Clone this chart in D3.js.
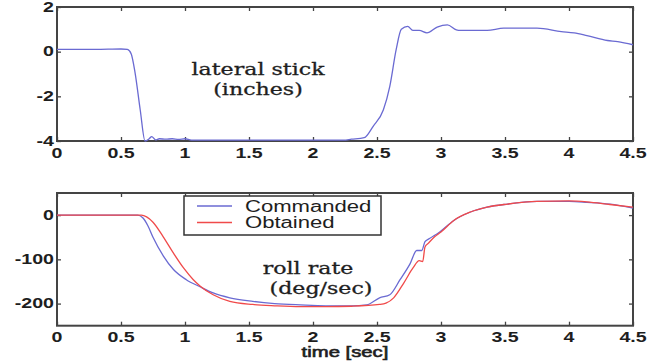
<!DOCTYPE html>
<html>
<head>
<meta charset="utf-8">
<script src="https://cdn.jsdelivr.net/npm/d3@7"></script>
<style>
  html, body { margin: 0; padding: 0; background: #fff; }
  svg { display: block; }
</style>
</head>
<body>
<svg id="chart" width="647" height="362"></svg>
<script>
// lateral stick (inches)
const stickTime = [0, 0.3, 0.5, 0.55, 0.58, 0.61, 0.65, 0.688, 0.72, 0.74, 0.77, 0.8, 0.85, 0.9, 0.95, 1.0, 1.05, 1.5, 2.0, 2.24, 2.3, 2.4, 2.47, 2.55, 2.6, 2.65, 2.69, 2.74, 2.78, 2.83, 2.89, 2.97, 3.05, 3.12, 3.15, 3.36, 3.49, 3.75, 3.94, 4.04, 4.14, 4.3, 4.38, 4.5];
const stickVal = [0.1, 0.1, 0.12, 0.1, -0.1, -0.95, -2.6, -4.0, -3.9, -3.8, -3.95, -3.9, -3.92, -3.9, -3.93, -3.9, -3.96, -3.96, -3.96, -3.96, -3.92, -3.85, -3.34, -2.6, -1.55, 0.1, 1.0, 1.13, 0.95, 0.95, 0.84, 1.1, 1.2, 0.98, 0.95, 0.95, 1.05, 1.05, 0.9, 0.84, 0.72, 0.5, 0.45, 0.31];

// roll rate (deg/sec)
const cmdTime = [0, 0.5, 0.63, 0.67, 0.71, 0.75, 0.83, 0.91, 1.01, 1.117, 1.22, 1.35, 1.53, 1.7, 1.9, 2.1, 2.3, 2.42, 2.52, 2.60, 2.68, 2.76, 2.81, 2.85, 2.875, 2.91, 2.99, 3.1, 3.23, 3.36, 3.52, 3.75, 4.0, 4.14, 4.32, 4.5];
const cmdVal = [0, 0, 0, -6, -24, -50, -92, -123, -146, -162, -176, -187, -195, -200, -203, -205, -205, -203, -187, -180, -146, -109, -80, -80, -60, -53, -38, -12, 7, 18, 25, 31, 31, 29, 25, 16];
const obtTime = [0, 0.5, 0.66, 0.7, 0.75, 0.83, 0.91, 0.99, 1.065, 1.117, 1.22, 1.35, 1.53, 1.7, 1.9, 2.1, 2.3, 2.52, 2.57, 2.63, 2.71, 2.78, 2.83, 2.857, 2.875, 2.90, 2.95, 3.0, 3.1, 3.23, 3.36, 3.52, 3.75, 4.0, 4.14, 4.32, 4.5];
const obtVal = [0, 0, 0, -4, -16, -49, -86, -120, -146, -160, -180, -195, -202, -205, -207, -207, -206, -202, -199, -187, -153, -120, -103, -105, -72, -64, -49, -38, -12, 7, 18, 25, 31, 32, 30, 24, 18];

const xTicks = [0, 0.5, 1, 1.5, 2, 2.5, 3, 3.5, 4, 4.5];
const xTickLabels = ["0", "0.5", "1", "1.5", "2", "2.5", "3", "3.5", "4", "4.5"];
const stickTicks = [-4, -2, 0, 2];
const rollTicks = [-200, -100, 0];
const legendNames = ["Commanded", "Obtained"];

const BLUE = "#6a6ad2";
const RED = "#f04a4a";
const FRAME = "#444";
const SX = 1.4; // the source figure is stretched horizontally

const svg = d3.select("#chart");

const x = d3.scaleLinear().domain([0, 4.5]).range([57, 633]);
const yTop = d3.scaleLinear().domain([-4, 2]).range([141, 7]);
const yBot = d3.scaleLinear().domain([-250, 50]).range([325.7, 193]);

const zip = (ts, vs) => ts.map((t, i) => ({ t, v: vs[i] }));

function stretchedText(g, px, py, str, opts) {
  return g.append("text")
    .attr("transform", `translate(${px},${py}) scale(${opts.sx || SX},1)`)
    .attr("text-anchor", opts.anchor || "middle")
    .attr("dominant-baseline", opts.baseline || "auto")
    .style("font-family", opts.family || "'Liberation Sans', Arial, sans-serif")
    .style("font-size", opts.size + "px")
    .style("font-weight", opts.weight || "normal")
    .attr("fill", opts.fill || "#1e1e1e")
    .attr("stroke", opts.stroke ? opts.fill || "#1e1e1e" : null)
    .attr("stroke-width", opts.stroke || null)
    .text(str);
}

function drawPanel(y, ticks, xLabelY) {
  const [y0, y1] = y.range(); // bottom, top
  const g = svg.append("g");

  // inward ticks on all four sides
  g.append("g").attr("transform", `translate(0,${y0})`)
    .call(d3.axisBottom(x).tickValues(xTicks).tickSizeInner(-4).tickSizeOuter(0).tickFormat(""));
  g.append("g").attr("transform", `translate(0,${y1})`)
    .call(d3.axisTop(x).tickValues(xTicks).tickSizeInner(-4).tickSizeOuter(0).tickFormat(""));
  g.append("g").attr("transform", `translate(${x.range()[0]},0)`)
    .call(d3.axisLeft(y).tickValues(ticks).tickSizeInner(-4).tickSizeOuter(0).tickFormat(""));
  g.append("g").attr("transform", `translate(${x.range()[1]},0)`)
    .call(d3.axisRight(y).tickValues(ticks).tickSizeInner(-4).tickSizeOuter(0).tickFormat(""));
  g.selectAll(".domain").remove();
  g.selectAll(".tick line").attr("stroke", FRAME).attr("stroke-width", 1.3);

  g.append("rect")
    .attr("x", x.range()[0]).attr("y", y1)
    .attr("width", x.range()[1] - x.range()[0]).attr("height", y0 - y1)
    .attr("fill", "none").attr("stroke", FRAME).attr("stroke-width", 2);

  // tick labels
  xTicks.forEach((t, i) => {
    stretchedText(g, x(t), xLabelY, xTickLabels[i], { size: 14, weight: "bold", baseline: "central" });
  });
  ticks.forEach((t) => {
    stretchedText(g, 54, y(t), String(t), { size: 14, weight: "bold", anchor: "end", baseline: "central" });
  });
  return g;
}

const topG = drawPanel(yTop, stickTicks, 153);
const botG = drawPanel(yBot, rollTicks, 337);

const lineTop = d3.line().x((d) => x(d.t)).y((d) => yTop(d.v)).curve(d3.curveMonotoneX);
const lineBot = d3.line().x((d) => x(d.t)).y((d) => yBot(d.v)).curve(d3.curveMonotoneX);

topG.append("path")
  .attr("d", lineTop(zip(stickTime, stickVal)))
  .attr("fill", "none").attr("stroke", BLUE).attr("stroke-width", 1.3);

botG.append("path")
  .attr("d", lineBot(zip(cmdTime, cmdVal)))
  .attr("fill", "none").attr("stroke", BLUE).attr("stroke-width", 1.3);
botG.append("path")
  .attr("d", lineBot(zip(obtTime, obtVal)))
  .attr("fill", "none").attr("stroke", RED).attr("stroke-width", 1.3);

// annotations
const serif = "'DejaVu Serif', Georgia, serif";
stretchedText(topG, 258, 75, "lateral stick", { size: 17, family: serif, sx: 1.3, stroke: 0.3 });
stretchedText(topG, 258, 95, "(inches)", { size: 17, family: serif, sx: 1.3, stroke: 0.3 });
stretchedText(botG, 308, 274, "roll rate", { size: 17, family: serif, sx: 1.3, stroke: 0.3 });
stretchedText(botG, 321, 293.5, "(deg/sec)", { size: 17, family: serif, sx: 1.3, stroke: 0.3 });

// x label
stretchedText(botG, 345, 357, "time [sec]", { size: 14.5, stroke: 0.6 });

// legend
const leg = botG.append("g");
leg.append("rect")
  .attr("x", 184).attr("y", 196).attr("width", 197).attr("height", 39)
  .attr("fill", "#fff").attr("stroke", "#333").attr("stroke-width", 1.5);
[BLUE, RED].forEach((c, i) => {
  const ly = 206 + i * 16.5;
  leg.append("line")
    .attr("x1", 197).attr("x2", 232).attr("y1", ly).attr("y2", ly)
    .attr("stroke", c).attr("stroke-width", 1.3);
  stretchedText(leg, 245, ly + 0.5, legendNames[i], { size: 16, anchor: "start", baseline: "central", sx: 1.38 });
});
</script>
</body>
</html>
